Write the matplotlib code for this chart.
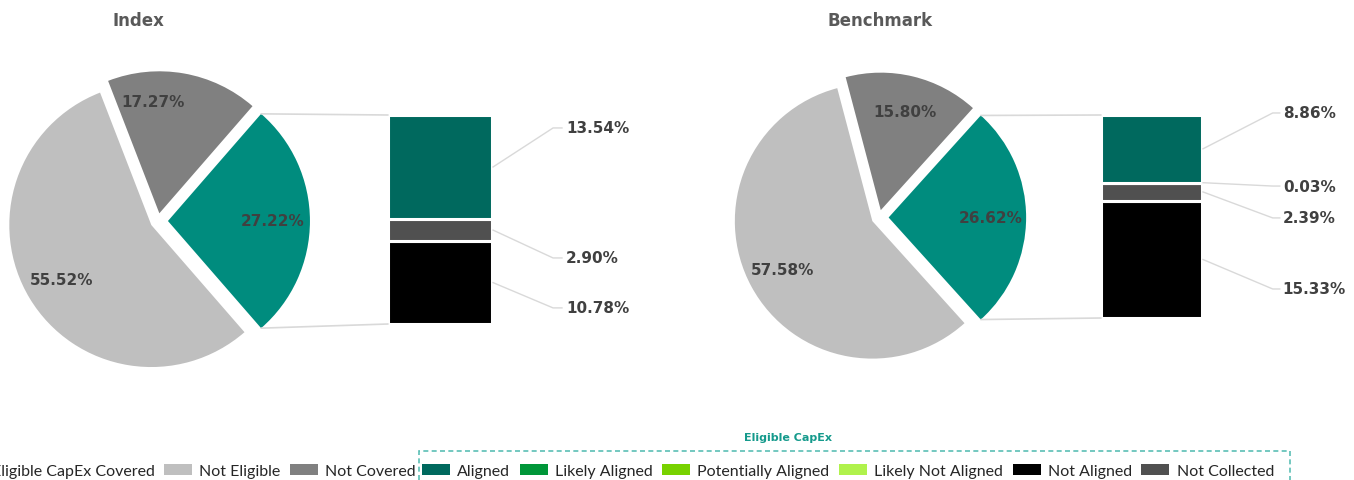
import matplotlib
matplotlib.use("Agg")
import matplotlib.pyplot as plt
from matplotlib.patches import Patch, Rectangle, ConnectionPatch
from matplotlib.lines import Line2D
import numpy as np

W, H = 1354, 481

# ---------------- data ----------------
pie_categories = ["Eligible CapEx Covered", "Not Covered", "Not Eligible"]
index_pie = [27.22, 17.27, 55.52]
benchmark_pie = [26.62, 15.80, 57.58]

# bar segments, bottom -> top
bar_categories = ["Not Aligned", "Not Collected", "Likely Aligned", "Aligned"]
index_bar = [10.78, 2.90, 0.00, 13.54]
benchmark_bar = [15.33, 2.39, 0.03, 8.86]

chart_titles = ["Index", "Benchmark"]

legend_outer = ["Eligible CapEx Covered", "Not Eligible", "Not Covered"]
legend_inner = ["Aligned", "Likely Aligned", "Potentially Aligned",
                "Likely Not Aligned", "Not Aligned", "Not Collected"]

colors = {
    "Eligible CapEx Covered": "#008C7E",
    "Not Covered": "#808080",
    "Not Eligible": "#BFBFBF",
    "Aligned": "#00695E",
    "Likely Aligned": "#009639",
    "Potentially Aligned": "#78D200",
    "Likely Not Aligned": "#B0F24C",
    "Not Aligned": "#000000",
    "Not Collected": "#505050",
}

# ---------------- layout (pixels) ----------------
layouts = [
    dict(cx=158, cy=222, r=142, bar=(388, 116, 104, 209), title_x=138,
         lab_y=[0.077, 0.316, None, 0.938], lab_x=1.712, elbow=1.587, hend=1.673,
         pie_lab_override={1: (93, 0.79)}),
    dict(cx=879, cy=218.5, r=137.5, bar=(1101, 116, 101, 203), title_x=880,
         lab_y=[0.143, 0.493, 0.650, 1.010], lab_x=1.80, elbow=1.70, hend=1.77,
         pie_lab_override={}),
]

LABEL_COL = "#404040"
LINE_COL = "#D9D9D9"

fig = plt.figure(figsize=(W / 100, H / 100), dpi=100)


def px_axes(left, top, width, height):
    return fig.add_axes([left / W, 1 - (top + height) / H, width / W, height / H])


for title, pie_vals, bar_vals, lay in zip(chart_titles, [index_pie, benchmark_pie],
                                          [index_bar, benchmark_bar], layouts):
    r = lay["r"]
    lim = 1.25
    side = 2 * lim * r
    axp = px_axes(lay["cx"] - side / 2, lay["cy"] - side / 2, side, side)
    half = pie_vals[0] / sum(pie_vals) * 360 / 2
    explode = [0.07, 0.055, 0.055]
    wedges, texts, autotexts = axp.pie(
        pie_vals, colors=[colors[c] for c in pie_categories], explode=explode,
        startangle=-half, counterclock=True, radius=1,
        autopct=lambda p: f"{p:.2f}%", pctdistance=0.74,
        textprops=dict(color=LABEL_COL, fontsize=11, fontweight="bold",
                       family="DejaVu Sans"))
    for i, (t, v, w) in enumerate(zip(autotexts, pie_vals, wedges)):
        t.set_text(f"{v:.2f}%")
        if i in lay["pie_lab_override"]:
            ang, dist = lay["pie_lab_override"][i]
            thm = np.deg2rad((w.theta1 + w.theta2) / 2)
            cx0 = explode[i] * np.cos(thm)
            cy0 = explode[i] * np.sin(thm)
            a = np.deg2rad(ang)
            t.set_position((cx0 + dist * np.cos(a), cy0 + dist * np.sin(a)))
    axp.set_xlim(-lim, lim)
    axp.set_ylim(-lim, lim)
    axp.set_aspect("equal")
    axp.axis("off")

    # title
    fig.text(lay["title_x"] / W, 1 - 21 / H, title, ha="center", va="center",
             fontsize=12, fontweight="bold", color="#595959", family="DejaVu Sans")

    # bar
    bx, by, bw, bh = lay["bar"]
    axb = px_axes(bx, by, bw, bh)
    total = sum(bar_vals)
    bottom = 0
    for cat, v, ly in zip(bar_categories, bar_vals, lay["lab_y"]):
        if v <= 0:
            continue
        axb.bar(0, v, bottom=bottom, width=1, color=colors[cat],
                edgecolor="white", linewidth=2.2)
        mid = (bottom + v / 2) / total
        axb.add_line(Line2D([1.01, lay["elbow"], lay["hend"]], [mid, ly, ly],
                            transform=axb.transAxes, color=LINE_COL, lw=1,
                            clip_on=False))
        axb.text(lay["lab_x"], ly, f"{v:.2f}%", transform=axb.transAxes,
                 ha="left", va="center", fontsize=11, fontweight="bold",
                 color=LABEL_COL, family="DejaVu Sans", clip_on=False)
        bottom += v
    axb.set_xlim(-0.5, 0.5)
    axb.set_ylim(0, total)
    axb.axis("off")

    # connectors from exploded teal wedge to bar
    ex = explode[0]
    th = np.deg2rad(half)
    for sgn, yb in [(1, 1), (-1, 0)]:
        pa = (ex + np.cos(th), sgn * np.sin(th))
        con = ConnectionPatch(xyA=pa, coordsA=axp.transData, xyB=(0, yb),
                              coordsB=axb.transAxes, color=LINE_COL, lw=1.2)
        fig.add_artist(con)

# ---------------- legends ----------------
LEG_FS = 11.5
leg_kw = dict(frameon=False, handlelength=1.75, handleheight=0.72,
              handletextpad=0.45, columnspacing=0.6, borderpad=0, borderaxespad=0,
              prop=dict(family="Lato", size=LEG_FS))
h1 = [Patch(facecolor=colors[c], edgecolor="none", label=c) for c in legend_outer]
leg1 = fig.legend(handles=h1, ncol=len(h1), loc="center right",
                  bbox_to_anchor=(416 / W, 9 / H), **leg_kw)
h2 = [Patch(facecolor=colors[c], edgecolor="none", label=c) for c in legend_inner]
leg2 = fig.legend(handles=h2, ncol=len(h2), loc="center left",
                  bbox_to_anchor=(422 / W, 9 / H), **leg_kw)
for lg in (leg1, leg2):
    for t in lg.get_texts():
        t.set_color("#262626")

# dashed box around eligible capex legend
box = Rectangle((419 / W, -0.1), (1290 - 419) / W, (481 - 452) / H + 0.1,
                transform=fig.transFigure, fill=False, edgecolor="#5BBFB5",
                linestyle=(0, (3, 2)), lw=1.2)
fig.add_artist(box)
fig.text(788 / W, 1 - 438 / H, "Eligible CapEx", ha="center", va="center",
         fontsize=8, fontweight="bold", color="#159A8C", family="DejaVu Sans")

fig.savefig("out.png", dpi=100)
